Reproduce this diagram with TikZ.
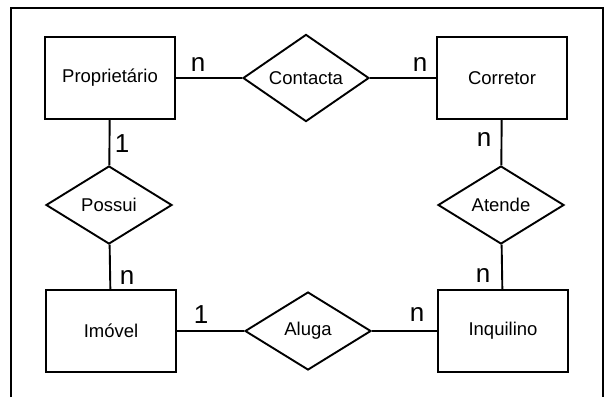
\documentclass[tikz,border=0pt]{standalone}
\usepackage{fontspec}
\setmainfont{Liberation Sans}
\usetikzlibrary{shapes.geometric}

\begin{document}
\begin{tikzpicture}[x=1pt,y=-1pt,
    entidade/.style={draw, line width=1.9pt, minimum width=130pt, minimum height=82pt, font=\fontsize{18.5}{22}\selectfont},
    relacao/.style={draw, diamond, line width=1.9pt, inner sep=0pt, minimum width=126pt, minimum height=78pt, font=\fontsize{18.5}{22}\selectfont},
    card/.style={inner sep=0pt, font=\fontsize{26}{30}\selectfont},
    liga/.style={line width=1.9pt}]
      \useasboundingbox (0,0) rectangle (609,397);
      % moldura
      \draw[liga] (11,397) -- (11,8) -- (603,8) -- (603,397);
          % entidades
          \node [entidade] (prop) at (110,78) {Propriet\'ario};
          \node [entidade] (corretor) at (502,78) {Corretor};
          \node [entidade] (imovel) at (111,331) {Im\'ovel};
          \node [entidade] (inquilino) at (503,331) {Inquilino};
          % relacionamentos
          \node [relacao] (contacta) at (306,78) {Contacta};
          \node [relacao] (possui) at (109,205) {Possui};
          \node [relacao] (atende) at (501,205) {Atende};
          \node [relacao] (aluga) at (308,331) {Aluga};
      \draw[liga] (prop) -- (contacta) -- (corretor);
      \draw[liga] (prop) -- (possui) -- (imovel);
      \draw[liga] (corretor) -- (atende) -- (inquilino);
      \draw[liga] (imovel) -- (aluga) -- (inquilino);
          % cardinalidades
          \foreach \nome/\pos/\txt in {c1/{(198,65)}/n, c2/{(122,144)}/1, c3/{(420,65)}/n, c4/{(484,139)}/n,
              c5/{(127,277)}/n, c6/{(201,315)}/1, c7/{(483,275)}/n, c8/{(417,314)}/n}
      \node [card] (\nome) at \pos {\txt};
\end{tikzpicture}
\end{document}
